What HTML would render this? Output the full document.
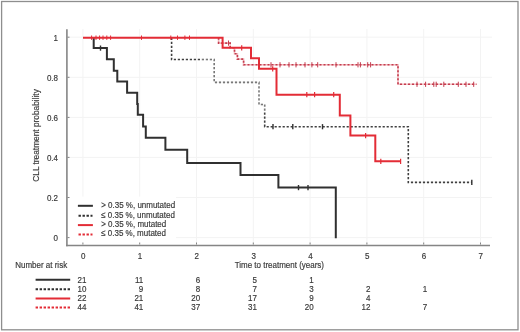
<!DOCTYPE html>
<html><head><meta charset="utf-8"><style>
html,body{margin:0;padding:0;background:#fff;}
body{width:520px;height:332px;overflow:hidden;font-family:"Liberation Sans",sans-serif;}
svg{display:block;will-change:transform;}
.t{font-family:"Liberation Sans",sans-serif;font-size:9px;fill:#383838;stroke:#3a3a3a;stroke-width:0.18px;}
.m{text-anchor:middle;}
.e{text-anchor:end;}
</style></head><body>
<svg width="520" height="332" viewBox="0 0 520 332"><rect x="0" y="0" width="520" height="332" fill="#ffffff"/><g><rect x="1.6" y="1.5" width="516.4" height="328.3" fill="none" stroke="#8e8e8e" stroke-width="1.3"/><line x1="82.9" y1="29" x2="82.9" y2="245" stroke="#f3f3f3" stroke-width="1"/><line x1="139.7" y1="29" x2="139.7" y2="245" stroke="#f3f3f3" stroke-width="1"/><line x1="196.5" y1="29" x2="196.5" y2="245" stroke="#f3f3f3" stroke-width="1"/><line x1="253.3" y1="29" x2="253.3" y2="245" stroke="#f3f3f3" stroke-width="1"/><line x1="310.1" y1="29" x2="310.1" y2="245" stroke="#f3f3f3" stroke-width="1"/><line x1="366.9" y1="29" x2="366.9" y2="245" stroke="#f3f3f3" stroke-width="1"/><line x1="423.7" y1="29" x2="423.7" y2="245" stroke="#f3f3f3" stroke-width="1"/><line x1="480.5" y1="29" x2="480.5" y2="245" stroke="#f3f3f3" stroke-width="1"/><line x1="67" y1="237.6" x2="492" y2="237.6" stroke="#f3f3f3" stroke-width="1"/><line x1="67" y1="197.5" x2="492" y2="197.5" stroke="#f3f3f3" stroke-width="1"/><line x1="67" y1="157.4" x2="492" y2="157.4" stroke="#f3f3f3" stroke-width="1"/><line x1="67" y1="117.4" x2="492" y2="117.4" stroke="#f3f3f3" stroke-width="1"/><line x1="67" y1="77.3" x2="492" y2="77.3" stroke="#f3f3f3" stroke-width="1"/><line x1="67" y1="37.2" x2="492" y2="37.2" stroke="#f3f3f3" stroke-width="1"/><rect x="67.8" y="196.6" width="108.2" height="48" fill="#ffffff"/><!--axes--><line x1="66.9" y1="29.3" x2="66.9" y2="246.3" stroke="#858585" stroke-width="1.6"/><line x1="66.1" y1="245.5" x2="490" y2="245.5" stroke="#858585" stroke-width="1.6"/><line x1="82.9" y1="244.5" x2="82.9" y2="242.5" stroke="#858585" stroke-width="1"/><line x1="139.7" y1="244.5" x2="139.7" y2="242.5" stroke="#858585" stroke-width="1"/><line x1="196.5" y1="244.5" x2="196.5" y2="242.5" stroke="#858585" stroke-width="1"/><line x1="253.3" y1="244.5" x2="253.3" y2="242.5" stroke="#858585" stroke-width="1"/><line x1="310.1" y1="244.5" x2="310.1" y2="242.5" stroke="#858585" stroke-width="1"/><line x1="366.9" y1="244.5" x2="366.9" y2="242.5" stroke="#858585" stroke-width="1"/><line x1="423.7" y1="244.5" x2="423.7" y2="242.5" stroke="#858585" stroke-width="1"/><line x1="480.5" y1="244.5" x2="480.5" y2="242.5" stroke="#858585" stroke-width="1"/><line x1="67.5" y1="237.6" x2="69.5" y2="237.6" stroke="#858585" stroke-width="1"/><line x1="67.5" y1="197.5" x2="69.5" y2="197.5" stroke="#858585" stroke-width="1"/><line x1="67.5" y1="157.4" x2="69.5" y2="157.4" stroke="#858585" stroke-width="1"/><line x1="67.5" y1="117.4" x2="69.5" y2="117.4" stroke="#858585" stroke-width="1"/><line x1="67.5" y1="77.3" x2="69.5" y2="77.3" stroke="#858585" stroke-width="1"/><line x1="67.5" y1="37.2" x2="69.5" y2="37.2" stroke="#858585" stroke-width="1"/><path d="M93.7,37.1 L93.7,48.1 L106.9,48.1 L106.9,59.2 L113.8,59.2 L113.8,70.8 L117.3,70.8 L117.3,81.6 L127.1,81.6 L127.1,92.8 L137.2,92.8 L137.2,104.0 L137.8,104.0 L137.8,114.7 L143.1,114.7 L143.1,126.6 L145.8,126.6 L145.8,137.8 L165.4,137.8 L165.4,149.8 L187.2,149.8 L187.2,162.9 L240.5,162.9 L240.5,175.1 L278.4,175.1 L278.4,187.6 L335.8,187.6 L335.8,238.3" fill="none" stroke="#303030" stroke-width="2.0"/><line x1="100.5" y1="45.5" x2="100.5" y2="50.7" stroke="#303030" stroke-width="1.4"/><line x1="298.5" y1="185.0" x2="298.5" y2="190.2" stroke="#303030" stroke-width="1.4"/><line x1="308.0" y1="185.0" x2="308.0" y2="190.2" stroke="#303030" stroke-width="1.4"/><path d="M171.6,37.7 L171.6,59.5 L214.2,59.5 L214.2,82.4 L259.0,82.4 L259.0,104.5 L264.7,104.5 L264.7,126.7 L408.3,126.7 L408.3,182.4 L471.8,182.4" fill="none" stroke="#404040" stroke-width="1.6" stroke-dasharray="2.2 1.8"/><path d="M201.0,59.5 L214.2,59.5 L214.2,82.4 L259.0,82.4 L259.0,104.5 L264.7,104.5 L264.7,112.3" fill="none" stroke="#ffffff" stroke-width="2.2" stroke-opacity="0.3"/><line x1="273.0" y1="124.1" x2="273.0" y2="129.3" stroke="#303030" stroke-width="1.4"/><line x1="292.8" y1="124.1" x2="292.8" y2="129.3" stroke="#303030" stroke-width="1.4"/><line x1="322.5" y1="124.1" x2="322.5" y2="129.3" stroke="#303030" stroke-width="1.4"/><line x1="471.8" y1="179.8" x2="471.8" y2="185.0" stroke="#303030" stroke-width="1.4"/><path d="M218.6,37.7 L218.6,43.1 L230.2,43.1 L230.2,47.8 L234.5,47.8 L234.5,53.7 L237.4,53.7 L237.4,59.1 L243.6,59.1 L243.6,64.8 L398.0,64.8 L398.0,84.3 L476.5,84.3" fill="none" stroke="#f3bcc0" stroke-width="1.6"/><path d="M218.6,37.7 L218.6,43.1 L230.2,43.1 L230.2,47.8 L234.5,47.8 L234.5,53.7 L237.4,53.7 L237.4,59.1 L243.6,59.1 L243.6,64.8 L398.0,64.8 L398.0,84.3 L476.5,84.3" fill="none" stroke="#c43d4f" stroke-width="1.6" stroke-dasharray="2 2"/><line x1="228.5" y1="40.5" x2="228.5" y2="45.7" stroke="#c43d4f" stroke-width="1.0"/><line x1="271.0" y1="62.2" x2="271.0" y2="67.4" stroke="#c43d4f" stroke-width="1.0"/><line x1="280.0" y1="62.2" x2="280.0" y2="67.4" stroke="#c43d4f" stroke-width="1.0"/><line x1="289.0" y1="62.2" x2="289.0" y2="67.4" stroke="#c43d4f" stroke-width="1.0"/><line x1="296.0" y1="62.2" x2="296.0" y2="67.4" stroke="#c43d4f" stroke-width="1.0"/><line x1="305.0" y1="62.2" x2="305.0" y2="67.4" stroke="#c43d4f" stroke-width="1.0"/><line x1="311.9" y1="62.2" x2="311.9" y2="67.4" stroke="#c43d4f" stroke-width="1.0"/><line x1="317.7" y1="62.2" x2="317.7" y2="67.4" stroke="#c43d4f" stroke-width="1.0"/><line x1="336.0" y1="62.2" x2="336.0" y2="67.4" stroke="#c43d4f" stroke-width="1.0"/><line x1="358.0" y1="62.2" x2="358.0" y2="67.4" stroke="#c43d4f" stroke-width="1.0"/><line x1="360.4" y1="62.2" x2="360.4" y2="67.4" stroke="#c43d4f" stroke-width="1.0"/><line x1="367.7" y1="62.2" x2="367.7" y2="67.4" stroke="#c43d4f" stroke-width="1.0"/><line x1="370.6" y1="62.2" x2="370.6" y2="67.4" stroke="#c43d4f" stroke-width="1.0"/><line x1="417.0" y1="81.7" x2="417.0" y2="86.9" stroke="#c43d4f" stroke-width="1.0"/><line x1="425.6" y1="81.7" x2="425.6" y2="86.9" stroke="#c43d4f" stroke-width="1.0"/><line x1="433.8" y1="81.7" x2="433.8" y2="86.9" stroke="#c43d4f" stroke-width="1.0"/><line x1="436.2" y1="81.7" x2="436.2" y2="86.9" stroke="#c43d4f" stroke-width="1.0"/><line x1="443.8" y1="81.7" x2="443.8" y2="86.9" stroke="#c43d4f" stroke-width="1.0"/><line x1="458.3" y1="81.7" x2="458.3" y2="86.9" stroke="#c43d4f" stroke-width="1.0"/><line x1="466.0" y1="81.7" x2="466.0" y2="86.9" stroke="#c43d4f" stroke-width="1.0"/><line x1="473.7" y1="81.7" x2="473.7" y2="86.9" stroke="#c43d4f" stroke-width="1.0"/><path d="M83.0,37.7 L222.6,37.7 L222.6,47.8 L251.0,47.8 L251.0,58.2 L259.0,58.2 L259.0,68.8 L276.5,68.8 L276.5,94.7 L339.8,94.7 L339.8,115.5 L350.4,115.5 L350.4,135.6 L375.3,135.6 L375.3,161.3 L400.6,161.3" fill="none" stroke="#e32c36" stroke-width="2.0"/><line x1="241.7" y1="45.2" x2="241.7" y2="50.4" stroke="#e32c36" stroke-width="1.2"/><line x1="272.7" y1="66.2" x2="272.7" y2="71.4" stroke="#e32c36" stroke-width="1.2"/><line x1="306.8" y1="92.1" x2="306.8" y2="97.3" stroke="#e32c36" stroke-width="1.2"/><line x1="314.6" y1="92.1" x2="314.6" y2="97.3" stroke="#e32c36" stroke-width="1.2"/><line x1="333.7" y1="92.1" x2="333.7" y2="97.3" stroke="#e32c36" stroke-width="1.2"/><line x1="365.6" y1="133.0" x2="365.6" y2="138.2" stroke="#e32c36" stroke-width="1.2"/><line x1="380.8" y1="158.7" x2="380.8" y2="163.9" stroke="#e32c36" stroke-width="1.2"/><line x1="400.6" y1="158.7" x2="400.6" y2="163.9" stroke="#e32c36" stroke-width="1.2"/><line x1="91.6" y1="35.5" x2="91.6" y2="39.9" stroke="#e32c36" stroke-width="1.0"/><line x1="96.0" y1="35.5" x2="96.0" y2="39.9" stroke="#e32c36" stroke-width="1.0"/><line x1="99.6" y1="35.5" x2="99.6" y2="39.9" stroke="#e32c36" stroke-width="1.0"/><line x1="103.0" y1="35.5" x2="103.0" y2="39.9" stroke="#e32c36" stroke-width="1.0"/><line x1="106.8" y1="35.5" x2="106.8" y2="39.9" stroke="#e32c36" stroke-width="1.0"/><line x1="110.6" y1="35.5" x2="110.6" y2="39.9" stroke="#e32c36" stroke-width="1.0"/><line x1="141.5" y1="35.5" x2="141.5" y2="39.9" stroke="#e32c36" stroke-width="1.0"/><line x1="170.8" y1="35.5" x2="170.8" y2="39.9" stroke="#e32c36" stroke-width="1.0"/><line x1="177.5" y1="35.5" x2="177.5" y2="39.9" stroke="#e32c36" stroke-width="1.0"/><line x1="184.9" y1="35.5" x2="184.9" y2="39.9" stroke="#e32c36" stroke-width="1.0"/><line x1="189.5" y1="35.5" x2="189.5" y2="39.9" stroke="#e32c36" stroke-width="1.0"/><text class="t e" transform="translate(58.00,241.15) scale(0.8889,1)">0</text><text class="t e" transform="translate(58.00,201.07) scale(0.8889,1)">0.2</text><text class="t e" transform="translate(58.00,160.99) scale(0.8889,1)">0.4</text><text class="t e" transform="translate(58.00,120.91) scale(0.8889,1)">0.6</text><text class="t e" transform="translate(58.00,80.83) scale(0.8889,1)">0.8</text><text class="t e" transform="translate(58.00,40.75) scale(0.8889,1)">1</text><text class="t m" transform="translate(83.20,259.15) scale(0.8889,1)">0</text><text class="t m" transform="translate(140.00,259.15) scale(0.8889,1)">1</text><text class="t m" transform="translate(196.80,259.15) scale(0.8889,1)">2</text><text class="t m" transform="translate(253.60,259.15) scale(0.8889,1)">3</text><text class="t m" transform="translate(310.40,259.15) scale(0.8889,1)">4</text><text class="t m" transform="translate(367.20,259.15) scale(0.8889,1)">5</text><text class="t m" transform="translate(424.00,259.15) scale(0.8889,1)">6</text><text class="t m" transform="translate(480.80,259.15) scale(0.8889,1)">7</text><text class="t m" transform="translate(279.30,268.20) scale(0.8889,1)">Time to treatment (years)</text><text class="t m" transform="translate(38.80,135.45) rotate(-90) scale(0.9239,1)">CLL treatment probability</text><text class="t" transform="translate(15.20,268.25) scale(0.8889,1)">Number at risk</text><line x1="77.9" y1="205.8" x2="92.9" y2="205.8" stroke="#303030" stroke-width="2.0"/><text class="t" transform="translate(101.20,208.15) scale(0.8889,1)">&gt; 0.35 %, unmutated</text><line x1="78.5" y1="215.7" x2="92.5" y2="215.7" stroke="#303030" stroke-width="2.0" stroke-dasharray="2.4 1.6"/><text class="t" transform="translate(101.20,217.55) scale(0.8889,1)">≤ 0.35 %, unmutated</text><line x1="77.9" y1="225.1" x2="92.9" y2="225.1" stroke="#e32c36" stroke-width="2.0"/><text class="t" transform="translate(101.20,227.25) scale(0.8889,1)">&gt; 0.35 %, mutated</text><line x1="78.5" y1="234.4" x2="92.5" y2="234.4" stroke="#e32c36" stroke-width="2.0" stroke-dasharray="2.4 1.6"/><text class="t" transform="translate(101.20,236.25) scale(0.8889,1)">≤ 0.35 %, mutated</text><line x1="35.6" y1="279.8" x2="70.2" y2="279.8" stroke="#303030" stroke-width="2.0"/><text class="t e" transform="translate(86.50,282.75) scale(0.8889,1)">21</text><text class="t e" transform="translate(143.30,282.75) scale(0.8889,1)">11</text><text class="t e" transform="translate(200.10,282.75) scale(0.8889,1)">6</text><text class="t e" transform="translate(256.90,282.75) scale(0.8889,1)">5</text><text class="t e" transform="translate(313.70,282.75) scale(0.8889,1)">1</text><line x1="35.6" y1="289.3" x2="70.2" y2="289.3" stroke="#303030" stroke-width="2.0" stroke-dasharray="2.4 1.6"/><text class="t e" transform="translate(86.50,291.75) scale(0.8889,1)">10</text><text class="t e" transform="translate(143.30,291.75) scale(0.8889,1)">9</text><text class="t e" transform="translate(200.10,291.75) scale(0.8889,1)">8</text><text class="t e" transform="translate(256.90,291.75) scale(0.8889,1)">7</text><text class="t e" transform="translate(313.70,291.75) scale(0.8889,1)">3</text><text class="t e" transform="translate(370.50,291.75) scale(0.8889,1)">2</text><text class="t e" transform="translate(427.30,291.75) scale(0.8889,1)">1</text><line x1="35.6" y1="298.5" x2="70.2" y2="298.5" stroke="#e32c36" stroke-width="2.0"/><text class="t e" transform="translate(86.50,301.35) scale(0.8889,1)">22</text><text class="t e" transform="translate(143.30,301.35) scale(0.8889,1)">21</text><text class="t e" transform="translate(200.10,301.35) scale(0.8889,1)">20</text><text class="t e" transform="translate(256.90,301.35) scale(0.8889,1)">17</text><text class="t e" transform="translate(313.70,301.35) scale(0.8889,1)">9</text><text class="t e" transform="translate(370.50,301.35) scale(0.8889,1)">4</text><line x1="35.6" y1="307.4" x2="70.2" y2="307.4" stroke="#e32c36" stroke-width="2.0" stroke-dasharray="2.4 1.6"/><text class="t e" transform="translate(86.50,310.45) scale(0.8889,1)">44</text><text class="t e" transform="translate(143.30,310.45) scale(0.8889,1)">41</text><text class="t e" transform="translate(200.10,310.45) scale(0.8889,1)">37</text><text class="t e" transform="translate(256.90,310.45) scale(0.8889,1)">31</text><text class="t e" transform="translate(313.70,310.45) scale(0.8889,1)">20</text><text class="t e" transform="translate(370.50,310.45) scale(0.8889,1)">12</text><text class="t e" transform="translate(427.30,310.45) scale(0.8889,1)">7</text></g></svg>
</body></html>
